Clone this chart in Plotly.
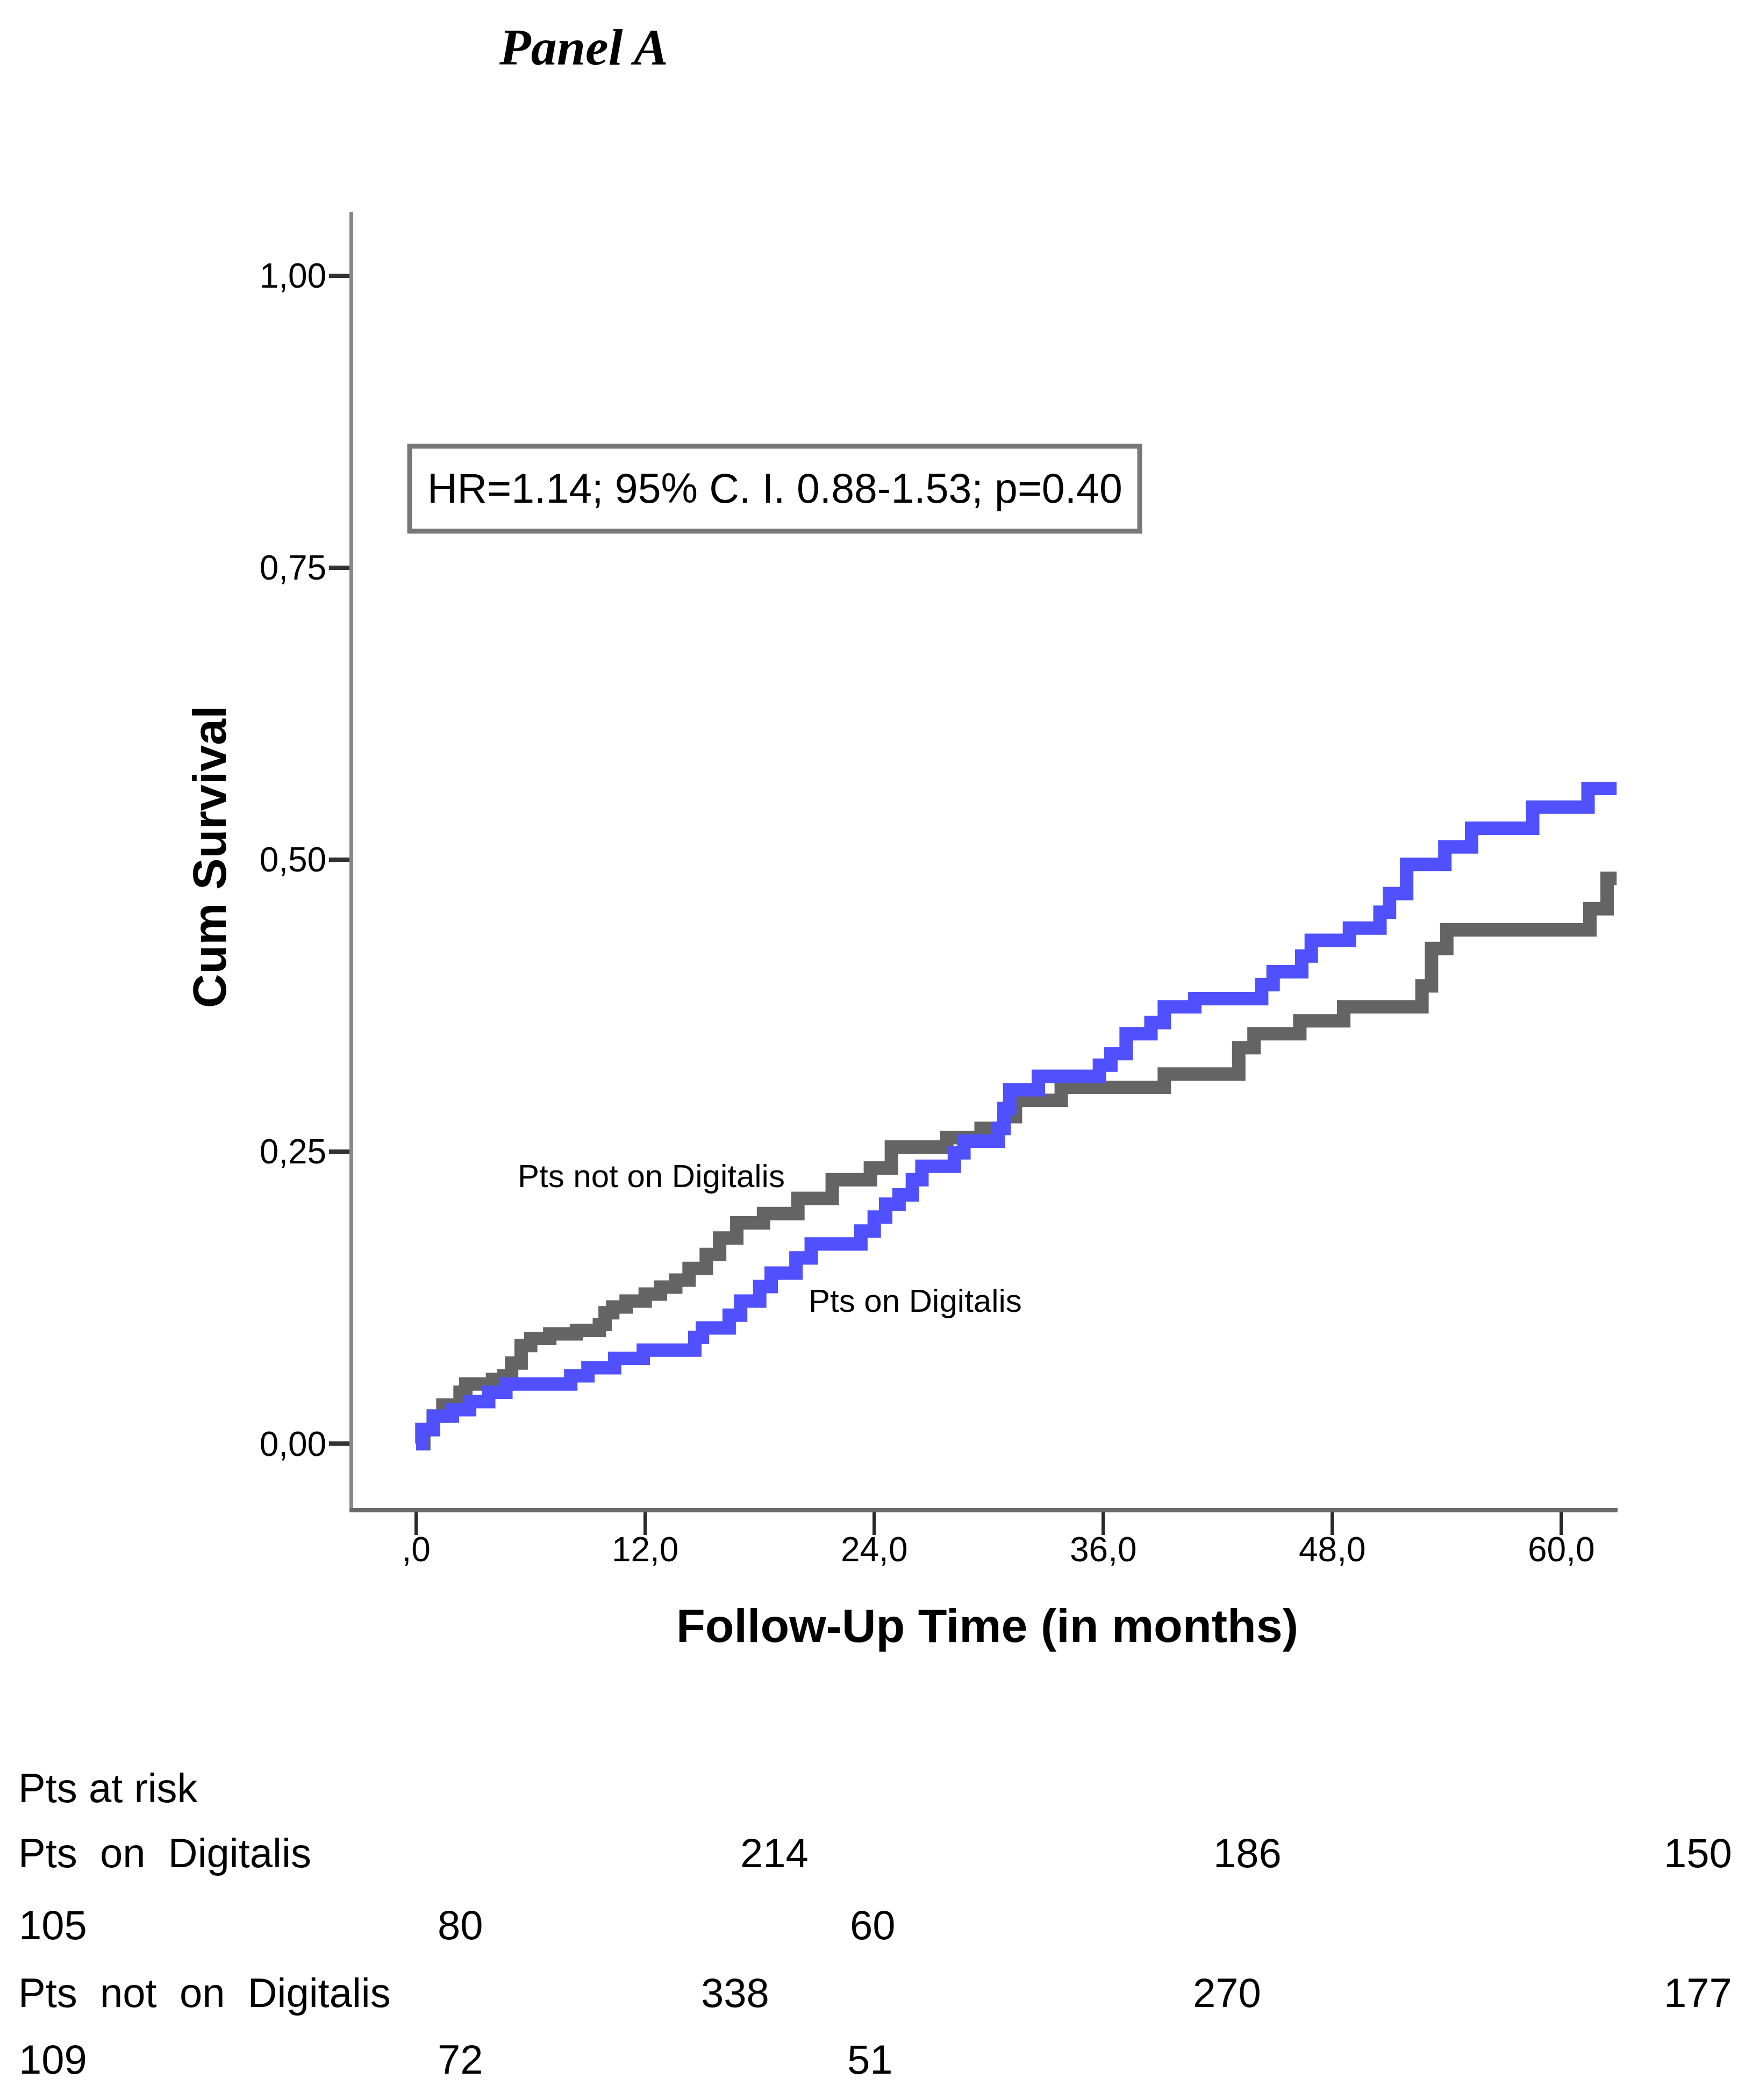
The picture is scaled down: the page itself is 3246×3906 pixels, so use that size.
import plotly.graph_objects as go

# ---------------- data ----------------
months_off = [0, 0.4, 0.9, 1.4, 2.3, 2.6, 4.0, 4.6, 5.0, 5.5, 6.0, 7.0, 8.4, 9.6, 9.9, 10.3,
              11.0, 12.0, 12.8, 13.6, 14.3, 15.2, 15.9, 16.8, 18.2, 20.0, 21.8, 23.8, 24.9,
              27.8, 29.6, 30.8, 31.4, 33.8, 39.2, 43.1, 43.9, 46.3, 48.6, 52.7, 53.2, 54.0,
              61.5, 62.4, 62.9]
surv_off = [0, 0.012, 0.0235, 0.033, 0.044, 0.051, 0.055, 0.058, 0.069, 0.084, 0.090, 0.094,
            0.097, 0.102, 0.112, 0.117, 0.122, 0.128, 0.134, 0.140, 0.150, 0.162, 0.176, 0.189,
            0.197, 0.210, 0.226, 0.236, 0.254, 0.262, 0.270, 0.280, 0.294, 0.305, 0.3165, 0.339,
            0.351, 0.362, 0.374, 0.392, 0.424, 0.440, 0.458, 0.484, 0.484]

months_on = [0, 0.3, 0.9, 1.9, 2.8, 3.8, 4.7, 8.1, 9.0, 10.4, 11.9, 14.6, 15.0, 16.4, 17.0,
             18.0, 18.6, 19.9, 20.7, 23.3, 24.0, 24.6, 25.3, 26.0, 26.5, 28.2, 28.7, 30.5,
             30.8, 31.1, 32.6, 35.8, 36.4, 37.2, 38.5, 39.2, 40.8, 44.3, 44.9, 46.4, 46.9,
             48.9, 50.5, 51.0, 51.9, 53.9, 55.3, 58.5, 61.4, 62.9]
surv_on = [0, 0.012, 0.0235, 0.029, 0.036, 0.044, 0.051, 0.058, 0.065, 0.073, 0.080, 0.091,
           0.099, 0.110, 0.122, 0.1345, 0.146, 0.159, 0.171, 0.182, 0.194, 0.205, 0.213, 0.226,
           0.2375, 0.249, 0.259, 0.270, 0.287, 0.303, 0.3145, 0.324, 0.334, 0.351, 0.3605,
           0.374, 0.381, 0.393, 0.404, 0.4175, 0.431, 0.4415, 0.455, 0.471, 0.496, 0.511,
           0.527, 0.545, 0.561, 0.561]

x_tickvals = [0, 12, 24, 36, 48, 60]
x_ticktext = [",0", "12,0", "24,0", "36,0", "48,0", "60,0"]
y_tickvals = [0, 0.25, 0.5, 0.75, 1.0]
y_ticktext = ["0,00", "0,25", "0,50", "0,75", "1,00"]

risk_title = "Pts at risk"
risk_label_on = "Pts\u00a0\u00a0on\u00a0\u00a0Digitalis"
risk_label_off = "Pts\u00a0\u00a0not\u00a0\u00a0on\u00a0\u00a0Digitalis"
risk_on = [214, 186, 150, 105, 80, 60]
risk_off = [338, 270, 177, 109, 72, 51]

hr_text = "HR=1.14; 95% C. I. 0.88-1.53; p=0.40"

# ---------------- layout geometry (pixels) ----------------
W, H = 3246, 3906
PL, PR, PT, PB = 649, 3001, 386, 2797


def px(xp):
    return (xp - PL) / (PR - PL)


def py(yp):
    return (PB - yp) / (PB - PT)


SANS = "Liberation Sans, Arial, sans-serif"

fig = go.Figure()
fig.add_trace(go.Scatter(x=months_off, y=surv_off, mode="lines", line_shape="hv",
                         line=dict(color="rgb(100,100,100)", width=25), showlegend=False))
fig.add_trace(go.Scatter(x=months_on, y=surv_on, mode="lines", line_shape="hv",
                         line=dict(color="rgb(80,80,255)", width=25), showlegend=False))

fig.update_layout(
    width=W, height=H,
    margin=dict(l=PL, r=W - PR, t=PT, b=H - PB, pad=0),
    plot_bgcolor="white", paper_bgcolor="white",
    showlegend=False,
)
fig.update_xaxes(range=[-3.3, 62.95], tickvals=x_tickvals, ticktext=x_ticktext,
                 showgrid=False, zeroline=False, showline=True, linecolor="rgb(105,105,105)",
                 linewidth=8, ticks="outside", ticklen=42, tickwidth=6, tickcolor="rgb(40,40,40)",
                 ticklabelstandoff=-28,
                 tickfont=dict(family=SANS, size=64, color="black"))
fig.update_yaxes(range=[-0.0552, 1.0548], tickvals=y_tickvals, ticktext=y_ticktext,
                 showgrid=False, zeroline=False, showline=True, linecolor="rgb(135,135,135)",
                 linewidth=7, ticks="outside", ticklen=38, tickwidth=8, tickcolor="rgb(50,50,50)",
                 ticklabelstandoff=-8,
                 tickfont=dict(family=SANS, size=64, color="black"))

ann = []
ann.append(dict(x=px(1077), y=py(80), xref="paper", yref="paper", text="<b><i>Panel A</i></b>",
                showarrow=False, font=dict(family="Liberation Serif, Times New Roman, serif", size=96, color="black"),
                xanchor="center", yanchor="middle"))
ann.append(dict(x=px(381), y=py(1586), xref="paper", yref="paper", text="<b>Cum Survival</b>",
                textangle=-90, showarrow=False, font=dict(family=SANS, size=88, color="black"),
                xanchor="center", yanchor="middle"))
ann.append(dict(x=px(1829), y=py(3015), xref="paper", yref="paper",
                text="<b>Follow-Up Time (in months)</b>", showarrow=False,
                font=dict(family=SANS, size=88, color="black"), xanchor="center", yanchor="middle"))
ann.append(dict(x=px(1433), y=py(900), xref="paper", yref="paper", text=hr_text, showarrow=False,
                font=dict(family=SANS, size=77, color="black"), xanchor="center", yanchor="middle"))
ann.append(dict(x=px(1203), y=py(2179), xref="paper", yref="paper", text="Pts not on Digitalis",
                showarrow=False, font=dict(family=SANS, size=60, color="black"),
                xanchor="center", yanchor="middle"))
ann.append(dict(x=px(1694), y=py(2411), xref="paper", yref="paper", text="Pts on Digitalis",
                showarrow=False, font=dict(family=SANS, size=60, color="black"),
                xanchor="center", yanchor="middle"))

# at-risk table
row_y = [3317, 3438, 3572, 3698, 3822]
label_x = 24
RF = 76
ann.append(dict(x=px(label_x), y=py(row_y[0]), xref="paper", yref="paper", text=risk_title,
                showarrow=False, font=dict(family=SANS, size=RF, color="black"),
                xanchor="left", yanchor="middle"))
ann.append(dict(x=px(label_x), y=py(row_y[1]), xref="paper", yref="paper", text=risk_label_on,
                showarrow=False, font=dict(family=SANS, size=RF, color="black"),
                xanchor="left", yanchor="middle"))
ann.append(dict(x=px(label_x), y=py(row_y[3]), xref="paper", yref="paper", text=risk_label_off,
                showarrow=False, font=dict(family=SANS, size=RF, color="black"),
                xanchor="left", yanchor="middle"))
on_x = [1432, 2312, 3150, 90, 848, 1615]
off_x = [1359, 2274, 3150, 90, 848, 1610]
on_rows = [1, 1, 1, 2, 2, 2]
off_rows = [3, 3, 3, 4, 4, 4]
for v, xx, r in zip(risk_on, on_x, on_rows):
    ann.append(dict(x=px(xx), y=py(row_y[r]), xref="paper", yref="paper", text=str(v),
                    showarrow=False, font=dict(family=SANS, size=RF, color="black"),
                    xanchor="center", yanchor="middle"))
for v, xx, r in zip(risk_off, off_x, off_rows):
    ann.append(dict(x=px(xx), y=py(row_y[r]), xref="paper", yref="paper", text=str(v),
                    showarrow=False, font=dict(family=SANS, size=RF, color="black"),
                    xanchor="center", yanchor="middle"))

fig.update_layout(annotations=ann)
fig.add_shape(type="rect", xref="paper", yref="paper", x0=px(754), x1=px(2112), y0=py(980), y1=py(822),
              line=dict(color="rgb(120,120,120)", width=9), fillcolor="rgba(0,0,0,0)")

fig.write_html("out.html")
